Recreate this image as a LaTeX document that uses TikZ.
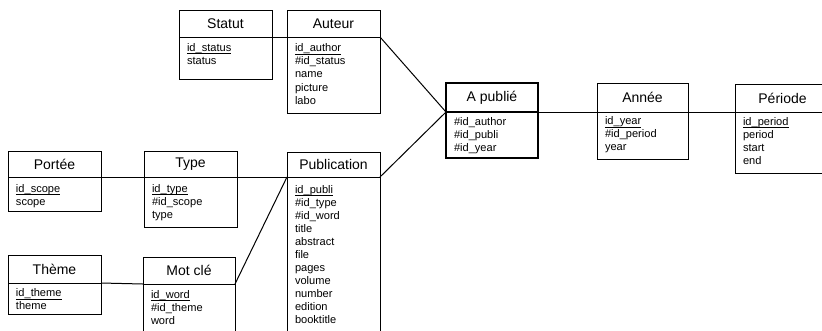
\documentclass[tikz,border=0pt]{standalone}
\usepackage{fontspec}
\setmainfont{Liberation Sans}
\tikzset{
  x=0.75pt, y=-0.75pt,
  entline/.style={line width=0.75pt},
  hdr/.style={draw, entline, rectangle, inner sep=0pt, outer sep=0pt, font=\fontsize{10.5}{12}\selectfont},
  bodybox/.style={draw, entline, rectangle, inner sep=0pt, outer sep=0pt},
  attr/.style={inner sep=0pt, outer sep=0pt, font=\fontsize{8.3}{9.8}\selectfont},
  conn/.style={draw, line width=0.75pt},
}
% name, cx, ytop, width, header h, body h, title, attributes, first-baseline offset
\newcommand\entity[9]{%
  \node[hdr, minimum width=#4*0.75pt, minimum height=#5*0.75pt, anchor=north] (#1) at (#2,#3) {#7};
  \node[bodybox, minimum width=#4*0.75pt, minimum height=#6*0.75pt, anchor=north] (#1b) at (#1.south) {};
  \node[attr, anchor=base west] (#1a) at ([shift={(8,#9)}]#1.south west) {\parbox[t]{90pt}{\raggedright #8}};
}
\newcommand\pk[1]{\leavevmode\setbox0\hbox{#1}\rlap{\rule[-1.9pt]{\wd0}{0.5pt}}\box0}
\begin{document}
\begin{tikzpicture}
\useasboundingbox (0,0) rectangle (822,330);
\clip (0,0) rectangle (822,330);
\entity{statut}{225.5}{10}{93}{27}{42}{Statut}{\pk{id\_status}\\status}{14.5}
\entity{auteur}{333.5}{10}{93}{27}{76}{Auteur}{\pk{id\_author}\\\#id\_status\\name\\picture\\labo}{14.8}
\begin{scope}[entline/.style={line width=1.5pt}]
\entity{apub}{492}{83}{92}{29}{46}{A publié}{\#id\_author\\\#id\_publi\\\#id\_year}{13}
\end{scope}
\entity{annee}{642.5}{83}{91}{29}{47}{Année}{\pk{id\_year}\\\#id\_period\\year}{12.7}
\entity{periode}{782.5}{84}{95}{28}{61}{Période}{\pk{id\_period}\\period\\start\\end}{13}
\entity{portee}{54.5}{151}{93}{26}{34}{Portée}{\pk{id\_scope}\\scope}{15.3}
\entity{type}{190.5}{151}{93}{26}{50}{Type}{\pk{id\_type}\\\#id\_scope\\type}{15.5}
\entity{pub}{333.5}{152}{93}{25}{170}{Publication}{\pk{id\_publi}\\\#id\_type\\\#id\_word\\title\\abstract\\file\\pages\\volume\\number\\edition\\booktitle}{16}
\entity{theme}{54.5}{255}{93}{28}{31}{Thème}{\pk{id\_theme}\\theme}{13.7}
\entity{motcle}{189}{257}{92}{27}{60}{Mot clé}{\pk{id\_word}\\\#id\_theme\\word}{14}
\draw[conn] (statut.south east) -- (auteur.south west);
\draw[conn] (auteur.south east) -- (apub.south west);
\draw[conn] (pub.south east) -- (apub.south west);
\draw[conn] (apub.south east) -- (annee.south west);
\draw[conn] (annee.south east) -- (periode.south west);
\draw[conn] (portee.south east) -- (type.south west);
\draw[conn] (type.south east) -- (pub.south west);
\draw[conn] (theme.south east) -- (motcle.south west);
\draw[conn] (motcle.south east) -- (pub.south west);
\end{tikzpicture}
\end{document}
